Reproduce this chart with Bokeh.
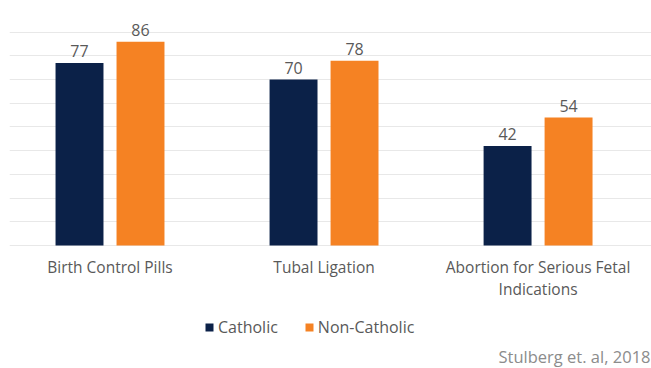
from bokeh.plotting import figure
from bokeh.models import (ColumnDataSource, Range1d, FixedTicker, LabelSet,
                          Legend, LegendItem, Label)
from bokeh.core.properties import value
from bokeh.transform import dodge
from bokeh.embed import file_html
from bokeh.resources import INLINE

categories = ["Birth Control Pills", "Tubal Ligation",
              "Abortion for Serious Fetal\nIndications"]
catholic = [77, 70, 42]
non_catholic = [86, 78, 54]
series_names = ["Catholic", "Non-Catholic"]
source_note = "Stulberg et. al, 2018"

NAVY = "#0b2148"
ORANGE = "#f58223"
TEXT = "#595959"
FONT = "Open Sans"

xs = list(range(len(categories)))
src = ColumnDataSource(dict(
    x=xs,
    catholic=catholic,
    non=non_catholic,
    cat_lbl=[str(v) for v in catholic],
    non_lbl=[str(v) for v in non_catholic],
    category=categories,
))

# frame spans the whole lower area; value axis 0..100 occupies the upper part
p = figure(width=651, height=368,
           x_range=Range1d(-0.4696, 2.530), y_range=Range1d(-51.9, 100),
           output_backend="svg", toolbar_location=None,
           x_axis_location=None, y_axis_location=None,
           min_border_left=9, min_border_right=0, min_border_top=8,
           min_border_bottom=0)
p.outline_line_color = None
p.background_fill_color = "white"
p.border_fill_color = "white"

off = 0.1425
bw = 0.224
r1 = p.vbar(x=dodge("x", -off, range=p.x_range), top="catholic", width=bw,
            source=src, fill_color=NAVY, line_color=None)
r2 = p.vbar(x=dodge("x", off, range=p.x_range), top="non", width=bw,
            source=src, fill_color=ORANGE, line_color=None)

for col, lbl, o in (("catholic", "cat_lbl", -off), ("non", "non_lbl", off)):
    ls = LabelSet(x=dodge("x", o, range=p.x_range), y=col, text=lbl, source=src,
                  text_align="center", text_baseline="alphabetic", y_offset=6,
                  text_font=value(FONT), text_font_size=value("16px"),
                  text_color=TEXT)
    p.add_layout(ls)

# category labels under the baseline
p.text(x="x", y=0, text="category", source=src, y_offset=11,
       text_align="center", text_baseline="top", text_line_height=0.98,
       text_font=value(FONT), text_font_size=value("15.5px"), text_color=TEXT)

p.xgrid.visible = False
p.ygrid.ticker = FixedTicker(ticks=list(range(0, 101, 10)))
p.ygrid.grid_line_color = "#e8e8e8"
p.ygrid.grid_line_width = 1

legend = Legend(items=[LegendItem(label=series_names[0], renderers=[r1]),
                       LegendItem(label=series_names[1], renderers=[r2])],
                orientation="horizontal", location=(195, 30),
                glyph_width=10, glyph_height=10, label_standoff=4, spacing=26,
                label_text_font=FONT, label_text_font_size="16px",
                label_text_color=TEXT, border_line_color=None,
                background_fill_alpha=0, padding=0, margin=0)
p.add_layout(legend)

note = Label(x=641, y=12, x_units="screen", y_units="screen",
             text=source_note, text_align="right", text_baseline="middle",
             text_font=FONT, text_font_size="16.5px", text_color="#8c8c8c")
p.add_layout(note)

open("out.html", "w").write(file_html(p, INLINE))
